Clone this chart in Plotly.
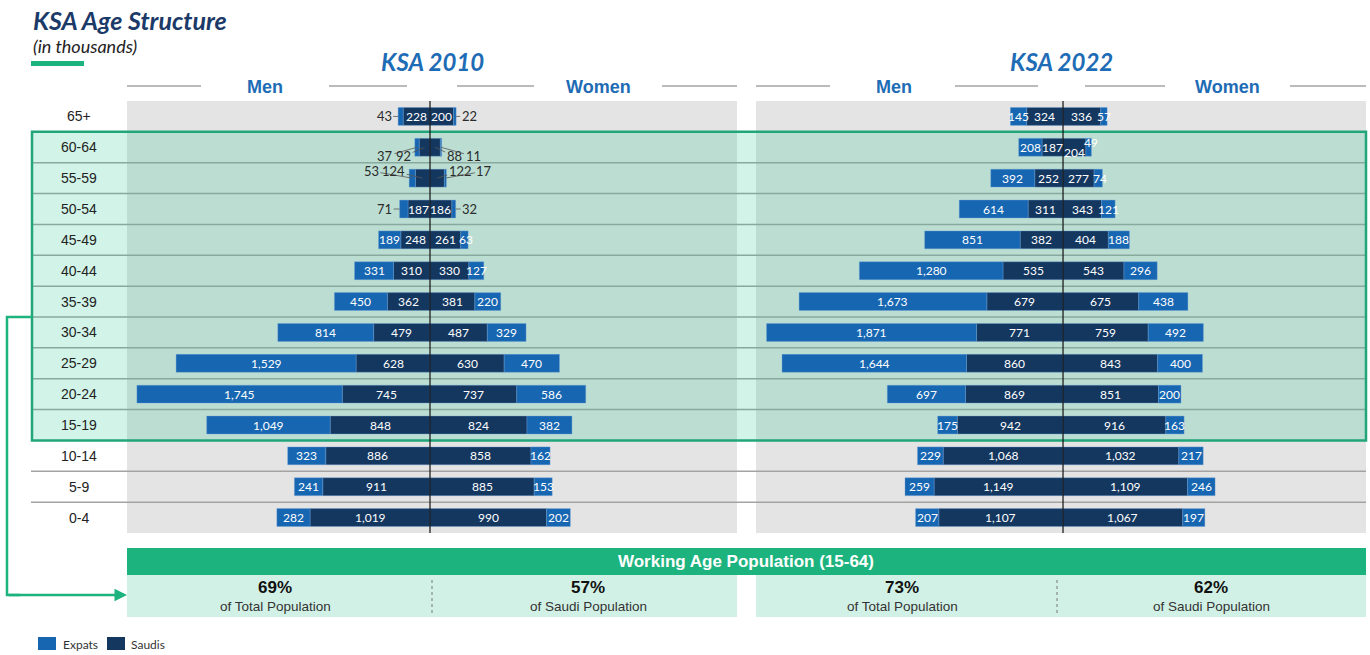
import plotly.graph_objects as go

W, H = 1370, 655

# ---------------- data (thousands) ----------------
ages = ["65+", "60-64", "55-59", "50-54", "45-49", "40-44", "35-39", "30-34",
        "25-29", "20-24", "15-19", "10-14", "5-9", "0-4"]

men_expat_2010 = [43, 37, 53, 71, 189, 331, 450, 814, 1529, 1745, 1049, 323, 241, 282]
men_saudi_2010 = [228, 92, 124, 187, 248, 310, 362, 479, 628, 745, 848, 886, 911, 1019]
women_saudi_2010 = [200, 88, 122, 186, 261, 330, 381, 487, 630, 737, 824, 858, 885, 990]
women_expat_2010 = [22, 11, 17, 32, 63, 127, 220, 329, 470, 586, 382, 162, 153, 202]

men_expat_2022 = [145, 208, 392, 614, 851, 1280, 1673, 1871, 1644, 697, 175, 229, 259, 207]
men_saudi_2022 = [324, 187, 252, 311, 382, 535, 679, 771, 860, 869, 942, 1068, 1149, 1107]
women_saudi_2022 = [336, 204, 277, 343, 404, 543, 675, 759, 843, 851, 916, 1032, 1109, 1067]
women_expat_2022 = [57, 49, 74, 121, 188, 296, 438, 492, 400, 200, 163, 217, 246, 197]

panel_titles = ["KSA 2010", "KSA 2022"]
working_age_title = "Working Age Population (15-64)"
working_age_share = ["69%", "57%", "73%", "62%"]
working_age_caption = ["of Total Population", "of Saudi Population",
                       "of Total Population", "of Saudi Population"]
legend_labels = ["Expats", "Saudis"]

# ---------------- style ----------------
EXPAT = "#1766B1"
SAUDI = "#14375F"
GREEN = "#1DB37E"
BORDER = "#22A57A"
GRAY = "#E4E4E4"
MINT = "#D2F1E6"
BLUE_TXT = "#1E6CB5"
NAVY_TXT = "#1B3A68"


def X(p):
    return p / W


def Y(p):
    return 1 - p / H


fig = go.Figure()

panels = [
    ("x", "2010", men_expat_2010, men_saudi_2010, women_saudi_2010, women_expat_2010),
    ("x2", "2022", men_expat_2022, men_saudi_2022, women_saudi_2022, women_expat_2022),
]

bar_kw = dict(orientation="h", yaxis="y", width=0.58, hoverinfo="skip", showlegend=False)
for xa, yr, me, ms, fs, fe in panels:
    line = dict(color="rgba(110,160,215,0.55)", width=0.7)
    fig.add_bar(y=ages, x=[-v for v in ms], base=0, xaxis=xa,
                marker=dict(color=SAUDI, line=line), **bar_kw)
    fig.add_bar(y=ages, x=[-v for v in me], base=[-v for v in ms], xaxis=xa,
                marker=dict(color=EXPAT, line=line), **bar_kw)
    fig.add_bar(y=ages, x=fs, base=0, xaxis=xa,
                marker=dict(color=SAUDI, line=line), **bar_kw)
    fig.add_bar(y=ages, x=fe, base=fs, xaxis=xa,
                marker=dict(color=EXPAT, line=line), **bar_kw)

# ---------------- bar labels ----------------
special = {
    ("2010", 0, "me"): dict(at="outer", ax=-14, ay=0),
    ("2010", 0, "fe"): dict(at="outer", ax=13, ay=0),
    ("2010", 1, "me"): dict(at="center", ax=-32, ay=9),
    ("2010", 1, "ms"): dict(at="center", ax=-21, ay=9),
    ("2010", 1, "fs"): dict(at="center", ax=19, ay=9),
    ("2010", 1, "fe"): dict(at="center", ax=32, ay=9),
    ("2010", 2, "me"): dict(at="center", ax=-41, ay=-7),
    ("2010", 2, "ms"): dict(at="center", ax=-29, ay=-7),
    ("2010", 2, "fs"): dict(at="center", ax=23, ay=-7),
    ("2010", 2, "fe"): dict(at="center", ax=39, ay=-7),
    ("2010", 3, "me"): dict(at="outer", ax=-15, ay=0),
    ("2010", 3, "fe"): dict(at="outer", ax=14, ay=0),
    ("2010", 4, "fe"): dict(shift=0, xs=2),
    ("2022", 1, "fs"): dict(shift=-5),
    ("2022", 1, "fe"): dict(shift=5, xs=2),
    ("2022", 2, "fe"): dict(shift=0, xs=2),
}

annotations = []
for xa, yr, me, ms, fs, fe in panels:
    for i, age in enumerate(ages):
        segs = {
            "me": (-(ms[i] + me[i] / 2), -(ms[i] + me[i]), me[i]),
            "ms": (-ms[i] / 2, -ms[i] / 2, ms[i]),
            "fs": (fs[i] / 2, fs[i] / 2, fs[i]),
            "fe": (fs[i] + fe[i] / 2, fs[i] + fe[i], fe[i]),
        }
        for key, (cx, outer, val) in segs.items():
            sp = special.get((yr, i, key))
            txt = f"{val:,}"
            if sp and "ax" in sp:
                annotations.append(dict(
                    x=outer if sp["at"] == "outer" else cx, y=age, xref=xa, yref="y",
                    text=txt, showarrow=True, ax=sp["ax"], ay=sp["ay"],
                    arrowhead=0, arrowwidth=0.8, arrowcolor="#555", standoff=0,
                    font=dict(family="Lato", size=13, color="#2b2b2b")))
            else:
                annotations.append(dict(
                    x=cx, y=age, xref=xa, yref="y", text=txt, showarrow=False,
                    xanchor="center", yanchor="middle",
                    yshift=(sp or {}).get("shift", 0), xshift=(sp or {}).get("xs", 0),
                    font=dict(family="Lato", size=12, color="white")))


def ptext(x, y, text, font, xanchor="center"):
    return dict(x=X(x), y=Y(y), xref="paper", yref="paper", text=text, showarrow=False,
                xanchor=xanchor, yanchor="middle", font=font)


# age labels
for age in ages:
    annotations.append(dict(x=X(79), y=age, xref="paper", yref="y", text=age,
                            showarrow=False, xanchor="center", yanchor="middle",
                            font=dict(family="Liberation Sans", size=14, color="#222")))

# titles
annotations.append(ptext(31, 20, "<b><i>KSA Age Structure</i></b>",
                         dict(family="Lato", size=25, color=NAVY_TXT), "left"))
annotations.append(ptext(31, 46, "<i>(in thousands)</i>",
                         dict(family="Lato", size=18, color="#222"), "left"))
for cx, t in zip([432, 1061], panel_titles):
    annotations.append(ptext(cx, 61, f"<b><i>{t}</i></b>",
                             dict(family="Lato", size=24, color=BLUE_TXT)))
for cx, t in zip([265, 598, 894, 1227], ["Men", "Women", "Men", "Women"]):
    annotations.append(ptext(cx, 87, f"<b>{t}</b>",
                             dict(family="Liberation Sans", size=18, color=BLUE_TXT)))

# working age banner
annotations.append(ptext(746, 561.5, f"<b>{working_age_title}</b>",
                         dict(family="Liberation Sans", size=17, color="white")))
for cx, s, c in zip([275, 588, 902, 1211], working_age_share, working_age_caption):
    annotations.append(ptext(cx, 587, f"<b>{s}</b>",
                             dict(family="Liberation Sans", size=17, color="#111")))
    annotations.append(ptext(cx, 606, c,
                             dict(family="Liberation Sans", size=13.5, color="#333")))

# connector arrow head
annotations.append(dict(x=X(127), y=Y(595), xref="paper", yref="paper", text="",
                        showarrow=True, ax=-120, ay=0, arrowhead=2, arrowsize=1,
                        arrowwidth=2.5, arrowcolor=GREEN, standoff=0))

# legend text
for lx, t in zip([61, 129], legend_labels):
    annotations.append(ptext(lx, 644, t, dict(family="Lato", size=12, color="#333"), "left"))

# ---------------- shapes ----------------
shapes = []
for x0, x1 in [(127, 737), (756, 1366)]:
    shapes.append(dict(type="rect", xref="paper", yref="paper", x0=X(x0), x1=X(x1),
                       y0=Y(533), y1=Y(101), fillcolor=GRAY, line=dict(width=0),
                       layer="below"))
for k in range(len(ages) - 1):
    b = k + 0.5
    if b in (0.5, 10.5):
        continue
    shapes.append(dict(type="line", xref="paper", yref="y", x0=X(31), x1=X(1366),
                       y0=b, y1=b, line=dict(color="#A3A3A3", width=1.5), layer="below"))
shapes.append(dict(type="rect", xref="paper", yref="y", x0=X(32), x1=X(1366),
                   y0=0.5, y1=10.5, fillcolor="rgba(29,200,140,0.2)",
                   line=dict(color=BORDER, width=2.5), layer="below"))
for xa in ["x", "x2"]:
    shapes.append(dict(type="line", xref=xa, yref="paper", x0=0, x1=0,
                       y0=Y(533), y1=Y(101), line=dict(color="#111", width=1.2),
                       layer="above"))
for x0, x1 in [(127, 201), (329, 407), (457, 534), (662, 737),
               (756, 830), (955, 1038), (1085, 1165), (1290, 1366)]:
    shapes.append(dict(type="line", xref="paper", yref="paper", x0=X(x0), x1=X(x1),
                       y0=Y(86), y1=Y(86), line=dict(color="#777", width=1)))
shapes.append(dict(type="rect", xref="paper", yref="paper", x0=X(31), x1=X(84),
                   y0=Y(66), y1=Y(61), fillcolor=GREEN, line=dict(width=0)))
shapes.append(dict(type="rect", xref="paper", yref="paper", x0=X(127), x1=X(1366),
                   y0=Y(575), y1=Y(548), fillcolor=GREEN, line=dict(width=0)))
for x0, x1 in [(127, 737), (756, 1366)]:
    shapes.append(dict(type="rect", xref="paper", yref="paper", x0=X(x0), x1=X(x1),
                       y0=Y(617), y1=Y(575), fillcolor=MINT, line=dict(width=0)))
for xd in [432, 1057]:
    shapes.append(dict(type="line", xref="paper", yref="paper", x0=X(xd), x1=X(xd),
                       y0=Y(613), y1=Y(578), line=dict(color="#777", width=1, dash="dot")))
path = f"M {X(32)},{Y(317)} L {X(7)},{Y(317)} L {X(7)},{Y(595)} L {X(20)},{Y(595)}"
shapes.append(dict(type="path", xref="paper", yref="paper", path=path,
                   line=dict(color=GREEN, width=2.5)))
for (x0, x1), c in zip([(38, 56), (107, 125)], [EXPAT, SAUDI]):
    shapes.append(dict(type="rect", xref="paper", yref="paper", x0=X(x0), x1=X(x1),
                       y0=Y(650), y1=Y(637), fillcolor=c, line=dict(width=0)))

fig.update_layout(
    width=W, height=H,
    margin=dict(l=0, r=0, t=0, b=0),
    paper_bgcolor="white", plot_bgcolor="rgba(0,0,0,0)",
    barmode="overlay",
    xaxis=dict(domain=[X(127), X(737)], range=[-2574, 2608], visible=False,
               fixedrange=True, anchor="y"),
    xaxis2=dict(domain=[X(756), X(1366)], range=[-2736, 2700], visible=False,
                fixedrange=True, anchor="y"),
    yaxis=dict(domain=[Y(533), Y(101)], type="category", categoryarray=ages,
               categoryorder="array", range=[13.5, -0.5], visible=False, fixedrange=True),
    shapes=shapes,
    annotations=annotations,
    showlegend=False,
)

fig.write_html("out.html", config={"displayModeBar": False},
               post_script="document.body.style.margin='0';document.body.style.overflow='hidden';")
